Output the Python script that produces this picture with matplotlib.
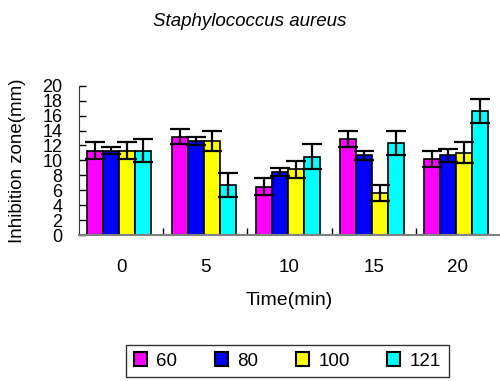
import matplotlib.pyplot as plt
import numpy as np

plt.rcParams["font.family"] = ["Liberation Sans", "DejaVu Sans"]

# Data
times = ["0", "5", "10", "15", "20"]
temps = ["60", "80", "100", "121"]
colors = ["#FF00FF", "#0000FF", "#FFFF00", "#00FFFF"]

# inhibition zone (mm), one list per temperature
zone_60 = [11.3, 13.2, 6.5, 12.9, 10.2]
zone_80 = [11.3, 12.6, 8.4, 10.7, 10.7]
zone_100 = [11.3, 12.6, 8.8, 5.7, 11.0]
zone_121 = [11.3, 6.7, 10.5, 12.3, 16.6]

err_60 = [1.1, 1.0, 1.1, 1.1, 1.1]
err_80 = [0.45, 0.5, 0.55, 0.6, 0.85]
err_100 = [1.1, 1.3, 1.15, 1.07, 1.4]
err_121 = [1.55, 1.65, 1.65, 1.6, 1.6]

values = [zone_60, zone_80, zone_100, zone_121]
errors = [err_60, err_80, err_100, err_121]

fig = plt.figure(figsize=(5, 3.81), dpi=100)
ax = fig.add_axes([0.158, 0.383, 0.842, 0.392])

x = np.arange(len(times))
w = 0.19
for k, (vals, errs, c, lab) in enumerate(zip(values, errors, colors, temps)):
    pos = x + (k - 1.5) * w - 0.02
    ax.bar(pos, vals, width=w, color=c, edgecolor="black", linewidth=1.2,
           label=lab, zorder=2)
    ax.errorbar(pos, vals, yerr=errs, fmt="none", ecolor="black",
                elinewidth=1.6, capsize=7.5, capthick=1.6, zorder=3)

ax.set_xlim(-0.5, 4.5)
ax.set_ylim(0, 20)
ax.set_yticks(np.arange(0, 21, 2))
ax.tick_params(axis="y", direction="in", length=5, width=1, pad=12,
               labelsize=13)
ax.set_xticks(x)
ax.set_xticklabels(times)
ax.set_xticks(np.arange(0.5, 4.5, 1), minor=True)
ax.tick_params(axis="x", which="major", length=0, pad=17, labelsize=13.5)
ax.tick_params(axis="x", which="minor", direction="in", length=5, width=1,
               color="black")

for s in ["top", "right"]:
    ax.spines[s].set_visible(False)
ax.spines["left"].set_color("#333333")
ax.spines["bottom"].set_color("#808080")
ax.spines["bottom"].set_linewidth(1.5)

ax.set_xlabel("Time(min)", fontsize=14, labelpad=12)
ax.set_ylabel("Inhibition zone(mm)", fontsize=13.5)
ax.yaxis.set_label_coords(-0.127, 0.5)
fig.text(0.5, 0.943, "Staphylococcus aureus", ha="center", va="center",
         fontsize=13.5, style="italic")

leg = fig.legend(loc="center", bbox_to_anchor=(0.575, 0.0525), ncol=4,
                 fontsize=13.5, frameon=True, fancybox=False,
                 handlelength=0.7, handleheight=0.7, handletextpad=0.5,
                 columnspacing=2.0, borderpad=0.4)
leg.get_frame().set_edgecolor("black")
leg.get_frame().set_linewidth(1.0)
for h in leg.legend_handles:
    h.set_linewidth(1.5)

fig.savefig("out.png", dpi=100)
